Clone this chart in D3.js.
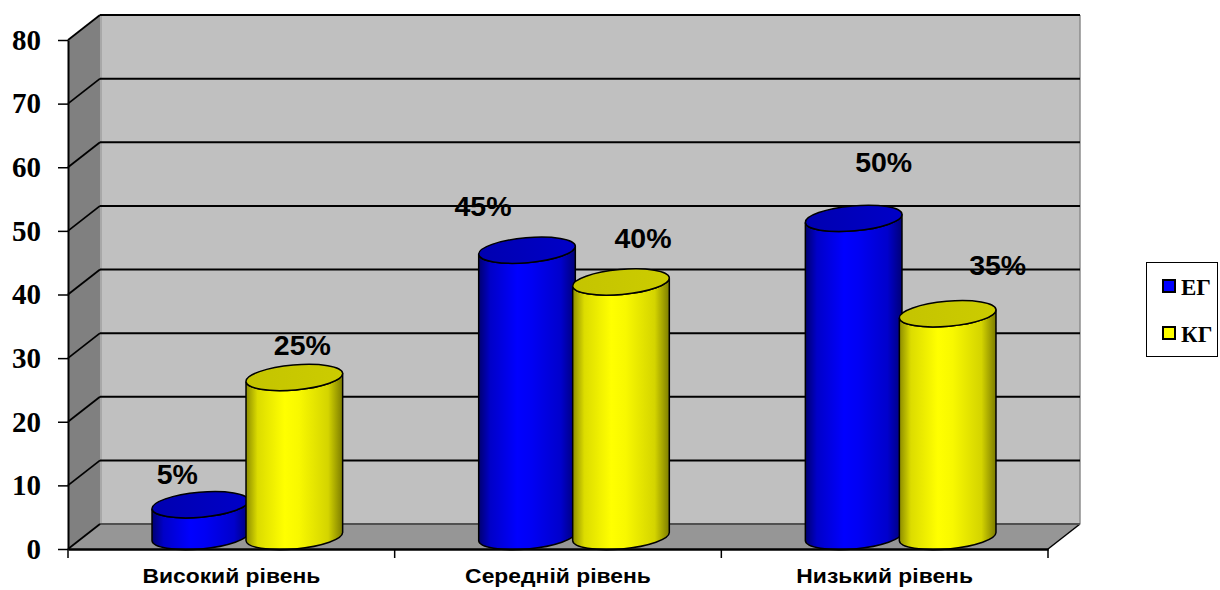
<!DOCTYPE html>
<html><head><meta charset="utf-8">
<script src="https://cdn.jsdelivr.net/npm/d3@7"></script>
<style>body{margin:0;background:#fff}svg{display:block}</style>
</head><body>
<svg id="c" width="1220" height="590"></svg>
<script>
// ---- data ----
const categories = ["Високий рівень", "Середній рівень", "Низький рівень"];
const seriesNames = ["ЕГ", "КГ"];
const egValues = [5, 45, 50];
const kgValues = [25, 40, 35];
const yTicks = [0, 10, 20, 30, 40, 50, 60, 70, 80];
// label placement tweaks (layout, relative to cylinder top centre)
const labelOffsets = [[[-23, -21], [8, -22]], [[-44, -34], [22, -34]], [[30, -46], [50, -39]]];

const svg = d3.select("#c");
const DX = 32, DY = -25;           // depth offset of back wall
const x = d3.scaleBand().domain(categories).range([68, 1048]);
const y = d3.scaleLinear().domain([0, 80]).range([549, 40]);

const defs = svg.append("defs");
function grad(id, stops) {
  const g = defs.append("linearGradient").attr("id", id).attr("x1", 0).attr("x2", 1).attr("y1", 0).attr("y2", 0);
  stops.forEach(s => g.append("stop").attr("offset", s[0]).attr("stop-color", s[1]));
}
grad("gBlue", [[0, "#000070"], [0.12, "#0000c8"], [0.4, "#0000ff"], [0.55, "#0000f4"], [0.85, "#0000cc"], [1, "#000078"]]);
grad("gYel", [[0, "#8c8c00"], [0.12, "#dcdc00"], [0.4, "#ffff00"], [0.55, "#f8f800"], [0.85, "#d4d400"], [1, "#7c7c00"]]);
grad("gBlueTop", [[0, "#0000b0"], [1, "#0000c8"]]);
grad("gYelTop", [[0, "#c4c400"], [1, "#cccc00"]]);

const x0 = 68, x1 = 1048;
const yTop = y(80), yBot = y(0);

// left side wall
svg.append("path")
  .attr("d", `M${x0},${yBot} L${x0},${yTop} L${x0 + DX},${yTop + DY} L${x0 + DX},${yBot + DY} Z`)
  .attr("fill", "#808080");
// back wall
svg.append("rect").attr("x", x0 + DX).attr("y", yTop + DY).attr("width", x1 - x0).attr("height", yBot - yTop)
  .attr("fill", "#c0c0c0");
svg.append("line").attr("x1", x0 + DX + 1).attr("x2", x0 + DX + 1).attr("y1", yTop + DY).attr("y2", yBot + DY)
  .attr("stroke", "#a8a8a8").attr("stroke-width", 2);
svg.append("line").attr("x1", x1 + DX).attr("x2", x1 + DX).attr("y1", yTop + DY).attr("y2", yBot + DY)
  .attr("stroke", "#8c8c8c").attr("stroke-width", 1.5);
// floor
svg.append("path")
  .attr("d", `M${x0},${yBot} L${x1},${yBot} L${x1 + DX},${yBot + DY} L${x0 + DX},${yBot + DY} Z`)
  .attr("fill", "#969696");
svg.append("line").attr("x1", x1).attr("y1", yBot).attr("x2", x1 + DX).attr("y2", yBot + DY)
  .attr("stroke", "#000").attr("stroke-width", 1.5);

// gridlines
const grid = svg.append("g");
grid.selectAll("line.bk").data(yTicks).join("line").attr("class", "bk")
  .attr("x1", x0 + DX).attr("x2", x1 + DX)
  .attr("y1", d => y(d) + DY).attr("y2", d => y(d) + DY)
  .attr("stroke", d => d === 0 ? "#505050" : "#000").attr("stroke-width", 2);
grid.selectAll("line.sd").data(yTicks).join("line").attr("class", "sd")
  .attr("x1", x0).attr("x2", x0 + DX)
  .attr("y1", d => y(d)).attr("y2", d => y(d) + DY)
  .attr("stroke", "#000").attr("stroke-width", 1.8);

// cylinders
const RX = 48.5, RY = 12.5, THETA = -5, HALF = 47;
const t = THETA * Math.PI / 180;
const ex = RX * Math.cos(t), ey = RX * Math.sin(t);
const depthX = DX / 2, depthY = DY / 2;

function cylinder(g, cx, v, body, top) {
  const yb = y(0) + depthY, yt = y(v) + depthY;
  g.append("path")
    .attr("d", `M${cx - ex},${yt - ey} L${cx - ex},${yb - ey} A${RX},${RY} ${THETA} 0 0 ${cx + ex},${yb + ey} L${cx + ex},${yt + ey} A${RX},${RY} ${THETA} 0 1 ${cx - ex},${yt - ey} Z`)
    .attr("fill", `url(#${body})`).attr("stroke", "#000").attr("stroke-width", 1.5);
  g.append("ellipse").attr("cx", cx).attr("cy", yt).attr("rx", RX).attr("ry", RY)
    .attr("transform", `rotate(${THETA},${cx},${yt})`)
    .attr("fill", `url(#${top})`).attr("stroke", "#000").attr("stroke-width", 1.5);
}

const bars = svg.append("g");
const labels = svg.append("g");
const series = [egValues, kgValues];
const fills = [["gBlue", "gBlueTop"], ["gYel", "gYelTop"]];
categories.forEach((c, i) => {
  const gc = x(c) + x.bandwidth() / 2 + depthX;
  series.forEach((vals, s) => {
    const cx = gc + (s === 0 ? -HALF : HALF);
    cylinder(bars, cx, vals[i], fills[s][0], fills[s][1]);
    const off = labelOffsets[i][s];
    labels.append("text")
      .attr("x", cx + off[0]).attr("y", y(vals[i]) + depthY + off[1])
      .attr("text-anchor", "middle")
      .attr("font-family", "Liberation Sans, Arial, sans-serif")
      .attr("font-weight", "bold").attr("font-size", 28.5)
      .text(vals[i] + "%");
  });
});

// y axis
const yAxis = svg.append("g").attr("transform", `translate(${x0},0)`)
  .call(d3.axisLeft(y).tickValues(yTicks).tickSize(10).tickSizeOuter(0).tickPadding(17));
yAxis.select(".domain").attr("stroke", "#000").attr("stroke-width", 2);
yAxis.selectAll(".tick line").attr("stroke", "#000").attr("stroke-width", 1.5);
yAxis.selectAll(".tick text")
  .attr("font-family", "Liberation Serif, Times New Roman, serif")
  .attr("font-weight", "bold").attr("font-size", 29).attr("fill", "#000");

// x axis
const xAxis = svg.append("g").attr("transform", `translate(0,${yBot})`)
  .call(d3.axisBottom(x).tickSize(0).tickPadding(22));
xAxis.select(".domain").attr("stroke", "#000").attr("stroke-width", 2.5);
xAxis.selectAll(".tick text")
  .attr("y", 34).attr("dy", 0)
  .attr("transform", "scale(1.09,1)")
  .attr("font-family", "Liberation Sans, Arial, sans-serif")
  .attr("font-weight", "bold").attr("font-size", 21).attr("fill", "#000");
const bounds = [0, 1, 2, 3].map(k => x0 + k * x.step());
svg.append("g").selectAll("line").data(bounds).join("line")
  .attr("x1", d => d).attr("x2", d => d).attr("y1", yBot).attr("y2", yBot + 9)
  .attr("stroke", "#000").attr("stroke-width", 1.5);

// legend
const lg = svg.append("g");
lg.append("rect").attr("x", 1146.5).attr("y", 262.5).attr("width", 71).attr("height", 94)
  .attr("fill", "#fff").attr("stroke", "#000").attr("stroke-width", 1);
const legColors = ["#0000ff", "#ffff00"];
seriesNames.forEach((n, i) => {
  const yy = 280 + i * 47;
  lg.append("rect").attr("x", 1163).attr("y", yy).attr("width", 12).attr("height", 12)
    .attr("fill", legColors[i]).attr("stroke", "#000").attr("stroke-width", 2);
  lg.append("text").attr("x", 1181).attr("y", yy + 15)
    .attr("font-family", "Liberation Serif, Times New Roman, serif")
    .attr("font-weight", "bold").attr("font-size", 23).text(n);
});
</script>
</body></html>
